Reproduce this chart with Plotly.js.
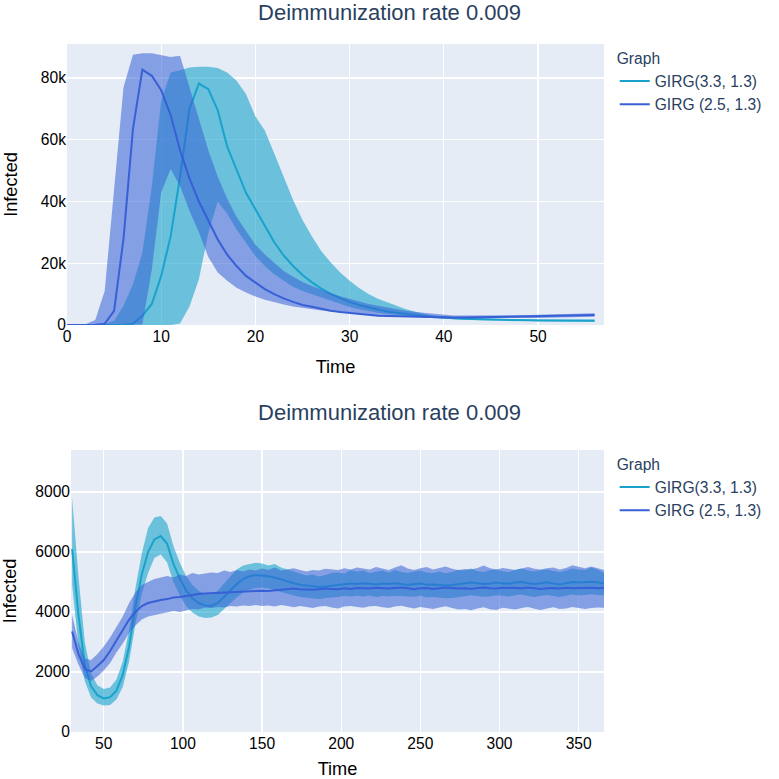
<!DOCTYPE html>
<html>
<head>
<meta charset="utf-8">
<script src="https://cdn.plot.ly/plotly-3.0.1.min.js"></script>
<style>
  html, body { margin: 0; padding: 0; background: #fff; overflow: hidden; width: 779px; height: 779px; }
  #top, #bottom { position: absolute; left: 0; width: 779px; overflow: hidden; }
  #top { top: 0; height: 390px; }
  #bottom { top: 390px; height: 389px; }
</style>
</head>
<body>
<div id="top"></div>
<div id="bottom"></div>
<script>
// ---------- Top chart: first 56 days ----------
const topTime = [0,1,2,3,4,5,6,7,8,9,10,11,12,13,14,15,16,17,18,19,20,21,22,23,24,25,26,27,28,29,30,31,32,33,34,35,36,37,38,39,40,41,42,43,44,45,46,47,48,49,50,51,52,53,54,55,56];

const topCyanMean = [0,0,0,0,0,0,0,400,3000,6800,15900,28700,48000,70000,78200,76400,69500,57800,50400,42800,37500,32100,26800,22500,19100,16200,13800,11800,10100,8700,7400,6500,5700,5000,4400,3950,3550,3200,2900,2600,2350,2150,2000,1900,1800,1700,1650,1600,1550,1500,1450,1450,1400,1400,1400,1400,1400];
const topCyanUpper = [0,0,0,0,300,1400,6200,13200,23400,44800,72700,81800,82500,83400,83600,83600,83200,81800,79100,74800,67500,63000,55500,48000,40500,34000,28700,23900,20200,17000,14300,12000,10000,8500,7300,6200,5100,4300,3500,3000,2700,2500,2350,2200,2100,2000,1950,1900,1850,1800,1800,1750,1750,1750,1750,1750,1750];
const topCyanLower = [0,0,0,0,0,0,0,0,0,0,0,0,500,6000,14800,29800,40000,36000,30900,26600,22300,19100,16400,14300,12400,11000,10000,8800,7800,7000,5800,5100,4500,4000,3600,3250,2950,2650,2400,2200,2000,1850,1700,1600,1500,1450,1400,1350,1300,1250,1200,1150,1150,1100,1100,1050,1050];

const topBlueMean = [0,0,0,50,400,4600,28000,63500,82700,80700,76000,68000,56600,47500,40000,33600,27700,22800,19100,15900,13700,11600,10000,8600,7500,6500,5900,5200,4600,4200,3900,3500,3200,3000,2900,2800,2700,2600,2500,2450,2400,2400,2400,2450,2450,2500,2550,2600,2650,2700,2750,2800,2900,2950,3000,3100,3200];
const topBlueUpper = [0,0,300,1600,11000,45000,77000,87500,88000,88000,87500,86800,87200,77000,66000,56600,48000,41000,35000,30300,26000,22800,20100,17500,15600,13900,12600,11400,10300,9300,8400,7600,6800,6200,5600,5100,4600,4200,3900,3500,3200,3100,3050,3050,3050,3050,3100,3150,3200,3250,3350,3400,3500,3550,3600,3700,3800];
const topBlueLower = [0,0,0,0,0,0,0,0,200,18000,43000,50500,45000,37000,30000,22000,17000,14300,12100,10500,9200,8200,7300,6600,6000,5500,5100,4700,4400,4100,3900,3600,3300,3100,2950,2800,2600,2450,2300,2200,2100,2100,2100,2100,2100,2100,2150,2150,2200,2200,2300,2350,2400,2450,2500,2600,2700];

// ---------- Bottom chart: full year ----------
const botTime = [30,34,38,42,46,50,54,58,62,66,70,74,78,82,86,90,94,98,102,106,110,114,118,122,126,130,134,138,142,146,150,154,158,162,166,170,174,178,182,186,190,194,198,202,206,210,214,218,222,226,230,234,238,242,246,250,254,258,262,266,270,274,278,282,286,290,294,298,302,306,310,314,318,322,326,330,334,338,342,346,350,354,358,362,366];

const botCyanMean = [6100,3900,2250,1520,1230,1120,1160,1380,1900,2850,4180,5250,6000,6420,6530,6280,5600,5120,4720,4460,4300,4220,4200,4300,4500,4720,4930,5100,5190,5230,5220,5190,5150,5080,5020,4960,4910,4880,4850,4830,4850,4880,4900,4920,4950,4930,4960,4940,4920,4950,4930,4960,4940,4900,4930,4950,4910,4920,4900,4880,4900,4920,4950,4980,4960,4930,4950,4980,4960,4940,4980,5000,4960,4930,4960,4990,4950,4920,4960,5000,4980,4990,5010,4990,4950];
const botCyanUpper = [7800,5200,3000,1950,1560,1430,1480,1750,2350,3400,4800,5950,6800,7150,7200,6950,6200,5650,5200,4900,4700,4600,4580,4700,4950,5200,5420,5550,5600,5640,5620,5550,5600,5480,5420,5350,5290,5220,5250,5180,5230,5300,5320,5280,5400,5350,5380,5300,5340,5380,5320,5400,5330,5300,5350,5380,5320,5300,5350,5290,5330,5400,5380,5450,5370,5330,5400,5420,5360,5330,5410,5450,5380,5350,5400,5420,5370,5330,5380,5450,5420,5400,5480,5420,5300];
const botCyanLower = [4900,2900,1700,1150,950,880,900,1080,1500,2350,3600,4600,5300,5800,5920,5650,5000,4550,4200,3980,3850,3800,3820,3900,4100,4300,4480,4650,4740,4800,4820,4780,4720,4650,4600,4550,4500,4470,4450,4430,4470,4480,4500,4530,4520,4540,4520,4550,4500,4530,4520,4540,4530,4500,4510,4540,4480,4500,4480,4460,4470,4500,4530,4560,4530,4510,4520,4560,4540,4520,4560,4580,4530,4500,4540,4570,4530,4500,4540,4580,4550,4560,4590,4570,4560];

const botBlueMean = [3350,2600,2100,2020,2200,2400,2700,3050,3400,3750,4000,4200,4300,4360,4400,4430,4480,4500,4540,4580,4600,4620,4630,4650,4670,4680,4690,4690,4700,4700,4710,4700,4720,4740,4750,4780,4760,4750,4740,4760,4780,4770,4760,4790,4770,4800,4790,4780,4810,4790,4780,4800,4820,4790,4760,4790,4800,4770,4790,4820,4800,4780,4790,4770,4800,4820,4790,4780,4810,4800,4780,4790,4820,4800,4770,4790,4800,4780,4810,4790,4800,4820,4810,4790,4810];
const botBlueUpper = [3900,3000,2450,2400,2600,2850,3150,3500,3850,4300,4650,4900,5000,5100,5150,5200,5150,5250,5200,5300,5250,5280,5320,5300,5380,5330,5400,5350,5420,5380,5450,5400,5480,5380,5420,5460,5400,5350,5400,5380,5440,5420,5400,5460,5420,5480,5440,5420,5500,5460,5400,5480,5560,5450,5400,5460,5500,5420,5470,5520,5440,5400,5430,5420,5470,5550,5460,5420,5470,5430,5400,5450,5500,5440,5420,5460,5480,5420,5470,5560,5500,5460,5520,5470,5400];
const botBlueLower = [2800,2250,1800,1700,1850,2050,2300,2650,2950,3300,3550,3750,3850,3900,3950,3980,4030,4000,4060,4100,4080,4150,4130,4170,4150,4200,4180,4220,4200,4230,4200,4220,4180,4230,4200,4160,4200,4170,4130,4180,4200,4150,4120,4180,4200,4170,4140,4190,4200,4160,4130,4180,4210,4160,4120,4170,4140,4100,4150,4190,4130,4080,4100,4060,4120,4160,4090,4070,4140,4100,4080,4130,4170,4110,4070,4120,4160,4100,4120,4170,4140,4100,4130,4150,4140];

const seriesNames = ['GIRG(3.3, 1.3)', 'GIRG (2.5, 1.3)'];
const chartTitle = 'Deimmunization rate 0.009';

// ---------- styling ----------
const CYAN = 'rgb(25,163,204)';
const CYAN_FILL = 'rgba(25,163,204,0.6)';
const BLUE = 'rgb(55,96,214)';
const BLUE_FILL = 'rgba(55,96,214,0.55)';
const FONT = 'Liberation Sans, Arial, sans-serif';

function bandTraces(x, lo, hi, mid, color, fill, name) {
  return [
    {x: x, y: lo, type: 'scatter', mode: 'lines', line: {width: 0, color: color}, showlegend: false, hoverinfo: 'skip'},
    {x: x, y: hi, type: 'scatter', mode: 'lines', line: {width: 0, color: color}, fill: 'tonexty', fillcolor: fill, showlegend: false, hoverinfo: 'skip'},
    {x: x, y: mid, type: 'scatter', mode: 'lines', line: {width: 2, color: color}, name: name}
  ];
}

function makeLayout(h, margin, titleY, xr, yr) {
  return {
    width: 779, height: h,
    margin: margin,
    paper_bgcolor: '#fff',
    plot_bgcolor: '#E5ECF6',
    font: {family: FONT, size: 15.6, color: '#2a3f5f'},
    title: {text: chartTitle, font: {size: 22, color: '#2a3f5f'}, x: 0.5, xref: 'container', y: titleY, yref: 'container', yanchor: 'middle'},
    xaxis: {range: xr, title: {text: 'Time', font: {size: 18.2, color: '#000'}, standoff: 16}, tickfont: {size: 15.6, color: '#000'},
            gridcolor: '#fff', gridwidth: 1.3, zeroline: false, showline: false, automargin: false},
    yaxis: {range: yr, title: {text: 'Infected', font: {size: 18.2, color: '#000'}, standoff: 18}, tickfont: {size: 15.6, color: '#000'},
            gridcolor: '#fff', gridwidth: 1.3, zeroline: false, showline: false, automargin: false},
    legend: {title: {text: 'Graph', font: {size: 15.6, color: '#2a3f5f'}}, font: {size: 15.6, color: '#2a3f5f'},
             traceorder: 'normal', x: 1.02, y: 1, xanchor: 'left', yanchor: 'top', bgcolor: 'rgba(0,0,0,0)'},
    showlegend: true
  };
}

const topData = [].concat(
  bandTraces(topTime, topCyanLower, topCyanUpper, topCyanMean, CYAN, CYAN_FILL, seriesNames[0]),
  bandTraces(topTime, topBlueLower, topBlueUpper, topBlueMean, BLUE, BLUE_FILL, seriesNames[1])
);
const botData = [].concat(
  bandTraces(botTime, botCyanLower, botCyanUpper, botCyanMean, CYAN, CYAN_FILL, seriesNames[0]),
  bandTraces(botTime, botBlueLower, botBlueUpper, botBlueMean, BLUE, BLUE_FILL, seriesNames[1])
);

Plotly.newPlot('top', topData, makeLayout(390, {l: 67, r: 162, t: 44, b: 65}, 1 - 12/390, [0, 57], [0, 91000]), {staticPlot: true});
Plotly.newPlot('bottom', botData, makeLayout(389, {l: 71, r: 161, t: 60, b: 47}, 1 - 22/389, [29.3, 366], [0, 9400]), {staticPlot: true});
</script>
</body>
</html>
